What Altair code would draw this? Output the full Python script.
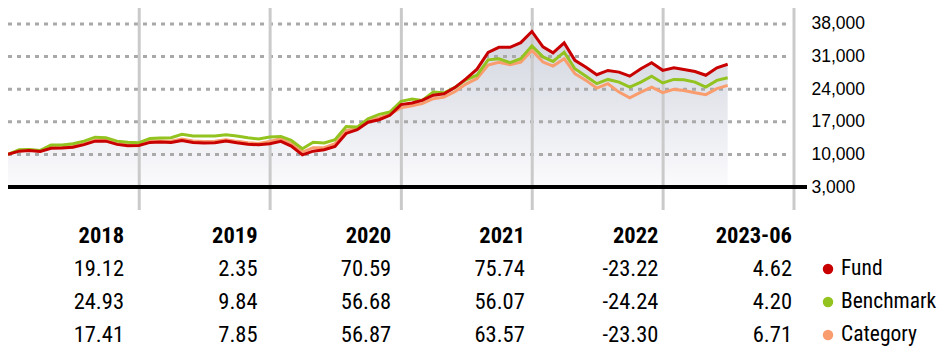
import altair as alt
import pandas as pd

# ---------------- data ----------------
dates = pd.date_range("2018-01-01", periods=67, freq="MS") - pd.Timedelta(days=1)

fund = [10000, 10700, 10850, 10650, 11300, 11350, 11550, 12100, 12850, 12850, 12150, 11850, 11900,
        12580, 12640, 12580, 13000, 12580, 12430, 12500, 12850, 12500, 12200, 12050, 12300,
        12800, 11800, 9900, 10700, 11000, 11720, 14500, 15300, 16900, 17450, 18400, 20700,
        21050, 21590, 22700, 23030, 24400, 26200, 28300, 31900, 33000, 33000, 34000, 36400,
        33100, 31800, 33950, 30200, 28700, 27100, 28030, 27670, 26800, 28400, 29700, 28050,
        28600, 28250, 27800, 27000, 28600, 29350]
bench = [10000, 11000, 11050, 10850, 12000, 12000, 12300, 12850, 13700, 13600, 12850, 12600, 12500,
         13430, 13540, 13590, 14300, 13930, 13930, 13930, 14230, 13970, 13590, 13290, 13750,
         13860, 13000, 11200, 12600, 12450, 13150, 16000, 15860, 17660, 18600, 19100, 21400,
         21900, 21600, 23380, 23240, 24400, 26000, 27000, 30300, 30540, 29700, 30540, 33300,
         30930, 29970, 31960, 28400, 26800, 25200, 26100, 25520, 24450, 25520, 26800, 25350,
         26100, 26040, 25520, 24450, 25890, 26470]
cat = [10000, 10800, 10950, 10750, 11500, 11550, 11750, 12300, 13050, 13050, 12350, 12050, 12100,
       12800, 12900, 12850, 13300, 12900, 12750, 12800, 13150, 12800, 12500, 12350, 12800,
       13370, 12300, 10500, 11440, 11440, 12300, 15150, 15510, 17300, 17880, 18590, 20000,
       20450, 20900, 21960, 22300, 23500, 25100, 26300, 29200, 29800, 29260, 29820, 32330,
       29820, 28960, 30540, 27330, 25890, 24230, 25180, 23380, 22170, 23380, 24450, 23250,
       23960, 23740, 23250, 22820, 24110, 24810]

years = ["2018", "2019", "2020", "2021", "2022", "2023-06"]
fund_ret = ["19.12", "2.35", "70.59", "75.74", "-23.22", "4.62"]
bench_ret = ["24.93", "9.84", "56.68", "56.07", "-24.24", "4.20"]
cat_ret = ["17.41", "7.85", "56.87", "63.57", "-23.30", "6.71"]

series = ["Fund", "Benchmark", "Category"]
colors = ["#c80000", "#92c31e", "#f99d6e"]

grid_values = [10000, 17000, 24000, 31000, 38000]
axis_values = [3000, 10000, 17000, 24000, 31000, 38000]
year_lines = ["2019-01-01", "2020-01-01", "2021-01-01", "2022-01-01", "2023-01-01", "2024-01-01"]

# ---------------- tables ----------------
df = pd.DataFrame({"date": dates, "Fund": fund, "Benchmark": bench, "Category": cat})
long = df.melt("date", var_name="series", value_name="value")

rows = []
for s, vals in zip(series, [fund_ret, bench_ret, cat_ret]):
    for y, v in zip(years, vals):
        rows.append({"row": s, "col": y, "text": v})
tab = pd.DataFrame(rows)
head = pd.DataFrame({"row": ["h"] * len(years), "col": years, "text": years})
leg = pd.DataFrame({"row": series})

NARROW = "Roboto Condensed, DejaVu Sans Condensed, sans-serif"
FS = 22.5

xs = alt.Scale(domain=[alt.DateTime(year=2017, month=12, date=31),
                       alt.DateTime(year=2024, month=1, date=1)])
ys = alt.Scale(domain=[-31570, 41435], nice=False, zero=False)

y_axis = alt.Axis(orient="right", values=axis_values, format=",.0f", labelPadding=17,
                  ticks=False, domain=False, grid=False, title=None,
                  labelFont="Liberation Sans", labelFontSize=17.5, labelColor="#000",
                  labelBaseline="middle")

grad = alt.Gradient(gradient="linear",
                    stops=[alt.GradientStop(color="#d2d5df", offset=0),
                           alt.GradientStop(color="#fbfbfd", offset=1)],
                    x1=0, x2=0, y1=0, y2=1)

area = alt.Chart(df).mark_area(color=grad).encode(
    x=alt.X("date:T", scale=xs, axis=None),
    y=alt.Y("Fund:Q", scale=ys, axis=y_axis),
    y2=alt.datum(3000),
)

grid = alt.Chart(pd.DataFrame({"v": grid_values})).mark_rule(
    color="#a9a9a9", strokeWidth=3, strokeDash=[4, 5]
).encode(y=alt.Y("v:Q", scale=ys, axis=y_axis), x=alt.value(0), x2=alt.value(780))

vlines = alt.Chart(pd.DataFrame({"d": year_lines})).mark_rule(
    color="#cacaca", strokeWidth=3
).encode(x=alt.X("d:T", scale=xs, axis=None), y=alt.value(0), y2=alt.value(202))

base = alt.Chart(pd.DataFrame({"v": [3000]})).mark_rule(
    color="#000", strokeWidth=4
).encode(y=alt.Y("v:Q", scale=ys, axis=y_axis), x=alt.value(0), x2=alt.value(799))

line_layers = []
for s, c in [("Category", colors[2]), ("Benchmark", colors[1]), ("Fund", colors[0])]:
    line_layers.append(
        alt.Chart(long).transform_filter(alt.datum.series == s).mark_line(
            color=c, strokeWidth=3
        ).encode(x=alt.X("date:T", scale=xs, axis=None),
                 y=alt.Y("value:Q", scale=ys, axis=y_axis))
    )

top = alt.layer(area, grid, vlines, base, *line_layers)

yt = alt.Scale(type="point", domain=["h"] + series, range=[228, 327], padding=0)
xt = alt.Scale(type="point", domain=years, range=[116, 784], padding=0)

header = alt.Chart(head).mark_text(
    align="right", baseline="middle", font=NARROW, fontSize=FS, fontWeight="bold", color="#000"
).encode(x=alt.X("col:N", scale=xt, axis=None), y=alt.Y("row:N", scale=yt, axis=None), text="text:N")

values = alt.Chart(tab).mark_text(
    align="right", baseline="middle", font=NARROW, fontSize=FS, color="#000"
).encode(x=alt.X("col:N", scale=xt, axis=None), y=alt.Y("row:N", scale=yt, axis=None), text="text:N")

dots = alt.Chart(leg).mark_circle(size=110, opacity=1).encode(
    x=alt.value(820),
    y=alt.Y("row:N", scale=yt, axis=None),
    color=alt.Color("row:N", scale=alt.Scale(domain=series, range=colors), legend=None),
)

labels = alt.Chart(leg).mark_text(
    align="left", baseline="middle", font=NARROW, fontSize=21.5, color="#000"
).encode(x=alt.value(833), y=alt.Y("row:N", scale=yt, axis=None), text="row:N")

table = alt.layer(header, values, dots, labels)

chart = alt.layer(top, table).resolve_scale(
    x="independent", y="independent", color="independent"
).properties(
    width=786, height=340,
    padding={"left": 0, "top": 0, "right": 144, "bottom": 0},
    autosize=alt.AutoSizeParams(type="none"),
    background="#ffffff",
).configure_view(stroke=None)

chart.save("out.html", embed_options={"renderer": "svg", "actions": False})
